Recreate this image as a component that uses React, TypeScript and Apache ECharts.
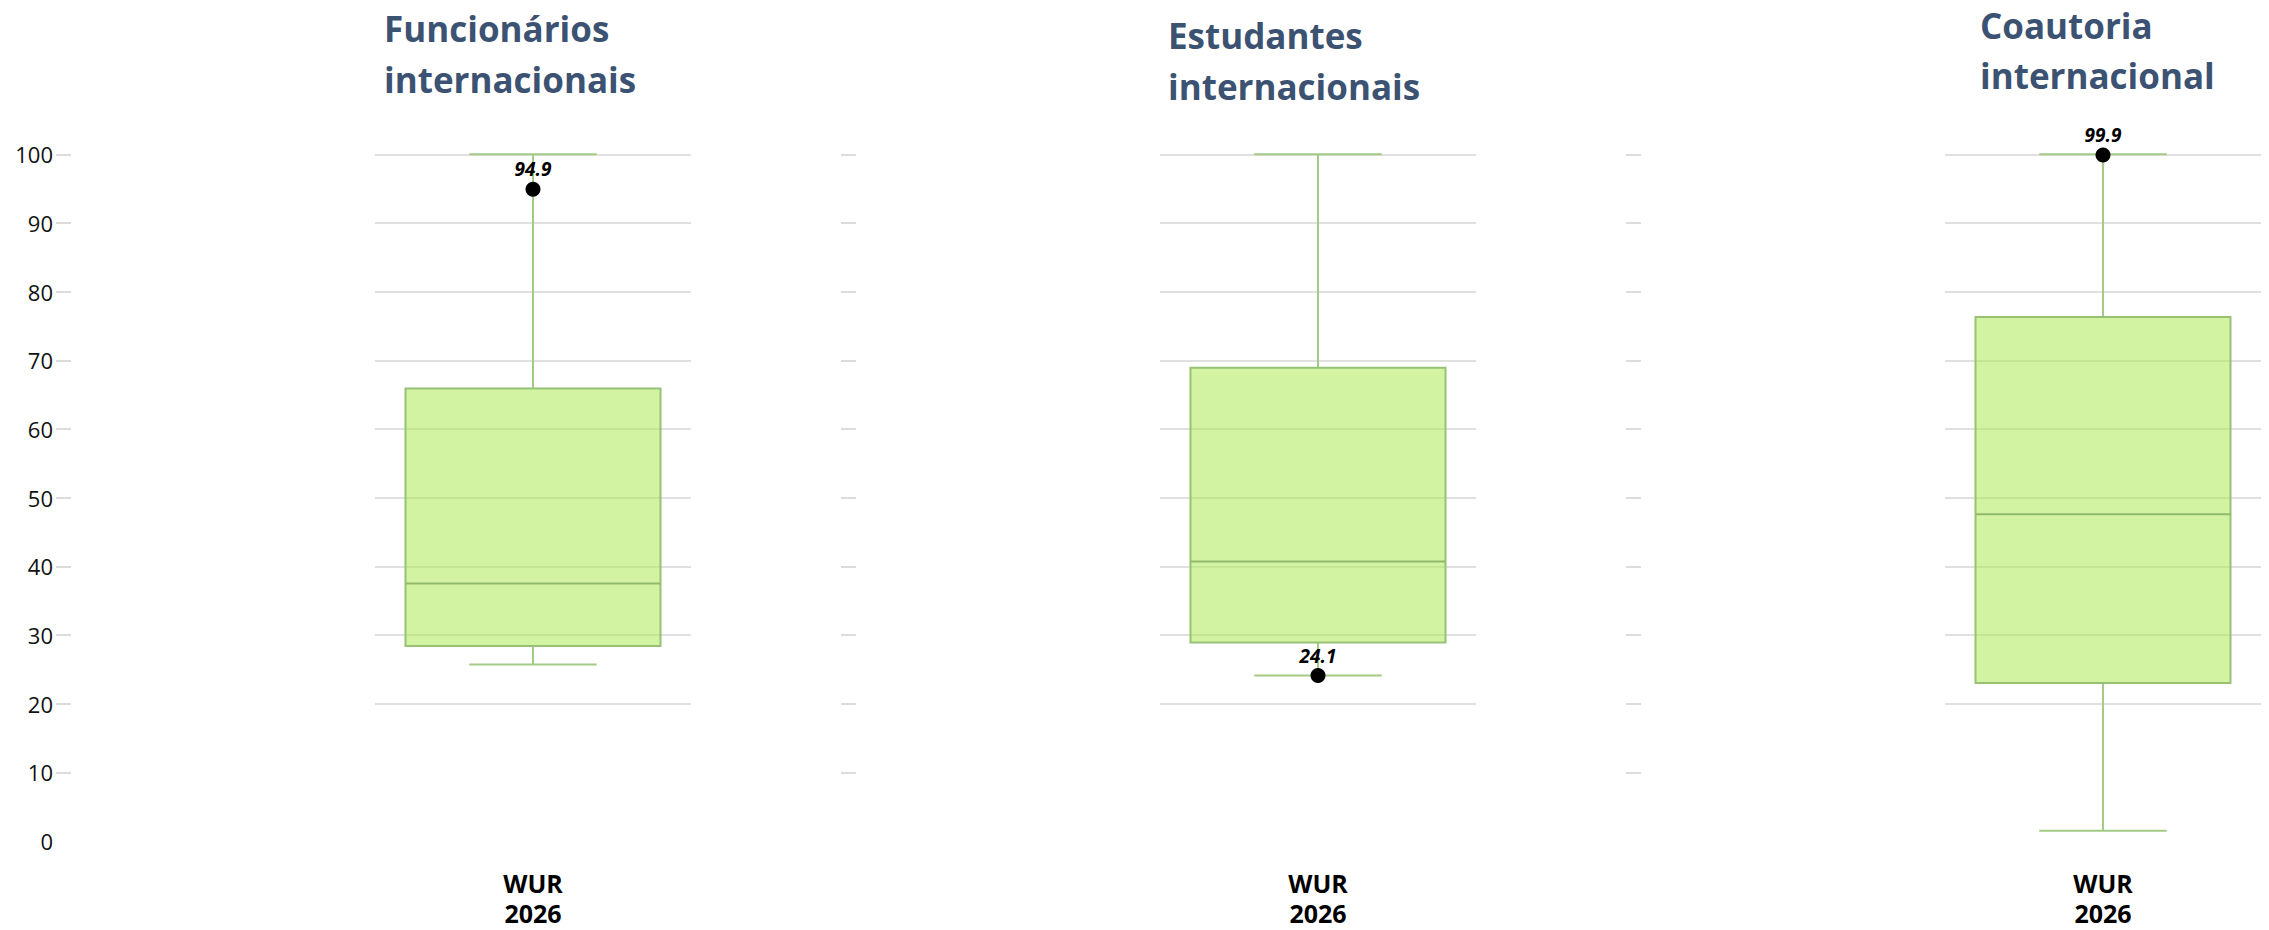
import React, { useEffect, useRef } from 'react';
import * as echarts from 'echarts';

const panelTitles = ['Funcionários\ninternacionais', 'Estudantes\ninternacionais', 'Coautoria\ninternacional'];
const categories = ['WUR\n2026'];
// [lower whisker, Q1, median, Q3, upper whisker]
const boxFuncionarios = [25.7, 28.4, 37.5, 65.9, 100];
const boxEstudantes = [24.1, 28.9, 40.7, 68.9, 100];
const boxCoautoria = [1.5, 23.0, 47.6, 76.3, 100];
const boxStats = [boxFuncionarios, boxEstudantes, boxCoautoria];
const highlightValues = [94.9, 24.1, 99.9];
const yTickValues = [0, 10, 20, 30, 40, 50, 60, 70, 80, 90, 100];

const PANEL_STEP = 785;
const GRID_LEFT = 375;
const GRID_WIDTH = 316;
const TITLE_TOPS = [3, 10, 0];
const TITLE_LEFTS = [384, 1168, 1980];
const BOX_RATIO = 0.807;

const whiskerColor = '#a3cb85';
const boxFill = 'rgba(173,235,86,0.55)';
const boxStroke = '#97c276';
const medianColor = '#8fba6c';

export default function App() {
  const ref = useRef<HTMLDivElement>(null);
  useEffect(() => {
    if (!ref.current) return;
    const chart = echarts.init(ref.current, null, { renderer: 'svg' });
    const grids: any[] = [];
    const xAxes: any[] = [];
    const yAxes: any[] = [];
    const series: any[] = [];
    const titles: any[] = [];
    for (let k = 0; k < 3; k++) {
      grids.push({ left: GRID_LEFT + PANEL_STEP * k, width: GRID_WIDTH, top: 154.3, bottom: 89 });
      titles.push({
        text: panelTitles[k],
        left: TITLE_LEFTS[k],
        top: TITLE_TOPS[k],
        padding: 0,
        textStyle: { fontFamily: 'Open Sans', fontWeight: 'bold', fontSize: 35, lineHeight: k === 2 ? 50 : 51, color: '#3c5272' },
      });
      xAxes.push({
        gridIndex: k,
        type: 'category',
        data: categories,
        axisLine: { show: false },
        axisTick: { show: false },
        axisLabel: { fontFamily: 'Open Sans', fontSize: 25, fontWeight: 'bold', color: '#000', lineHeight: 30, margin: 27 },
      });
      yAxes.push({
        gridIndex: k,
        type: 'value',
        min: 0,
        max: 100,
        interval: 10,
        offset: GRID_LEFT - 71,
        axisLine: { show: false },
        axisTick: { show: true, length: 15, lineStyle: { color: '#dcdcdc', width: 2 }, customValues: yTickValues.slice(1) },
        axisLabel: { show: k === 0, margin: 18, fontFamily: 'Open Sans', fontSize: 22, color: '#111', customValues: yTickValues },
        splitLine: { show: true, showMinLine: false, lineStyle: { color: '#e0e0e0', width: 2 } },
      });
      series.push({
        type: 'custom',
        xAxisIndex: k,
        yAxisIndex: k,
        encode: { x: 0, y: [1, 2, 3, 4, 5] },
        data: [[0, ...boxStats[k]]],
        z: 2,
        renderItem: (params: any, api: any) => {
          const x = api.value(0);
          const lo = api.coord([x, api.value(1)]);
          const q1 = api.coord([x, api.value(2)]);
          const med = api.coord([x, api.value(3)]);
          const q3 = api.coord([x, api.value(4)]);
          const hi = api.coord([x, api.value(5)]);
          const band = api.size([1, 0])[0];
          const bw = band * BOX_RATIO;
          const cw = bw / 2;
          const cx = lo[0];
          const ls = { stroke: whiskerColor, lineWidth: 2 };
          return {
            type: 'group',
            children: [
              { type: 'line', shape: { x1: cx, y1: q3[1], x2: cx, y2: hi[1] }, style: ls },
              { type: 'line', shape: { x1: cx, y1: q1[1], x2: cx, y2: lo[1] }, style: ls },
              { type: 'line', shape: { x1: cx - cw / 2, y1: hi[1], x2: cx + cw / 2, y2: hi[1] }, style: ls },
              { type: 'line', shape: { x1: cx - cw / 2, y1: lo[1], x2: cx + cw / 2, y2: lo[1] }, style: ls },
              { type: 'rect', shape: { x: cx - bw / 2, y: q3[1], width: bw, height: q1[1] - q3[1] }, style: { fill: boxFill, stroke: boxStroke, lineWidth: 2 } },
              { type: 'line', shape: { x1: cx - bw / 2, y1: med[1], x2: cx + bw / 2, y2: med[1] }, style: { stroke: medianColor, lineWidth: 2 } },
            ],
          };
        },
      });
      series.push({
        type: 'scatter',
        xAxisIndex: k,
        yAxisIndex: k,
        z: 10,
        symbolSize: 15,
        itemStyle: { color: '#000', opacity: 1 },
        data: [[0, highlightValues[k]]],
        label: {
          show: true,
          position: 'top',
          distance: 3,
          formatter: (p: any) => p.value[1].toFixed(1),
          fontFamily: 'Open Sans',
          fontStyle: 'italic',
          fontWeight: 'bold',
          fontSize: 19,
          color: '#000',
        },
      });
    }
    chart.setOption({
      animation: false,
      backgroundColor: '#fff',
      title: titles,
      grid: grids,
      xAxis: xAxes,
      yAxis: yAxes,
      series,
    });
    return () => chart.dispose();
  }, []);
  return <div ref={ref} style={{ position: 'fixed', left: 0, top: 0, width: 2269, height: 930 }} />;
}
